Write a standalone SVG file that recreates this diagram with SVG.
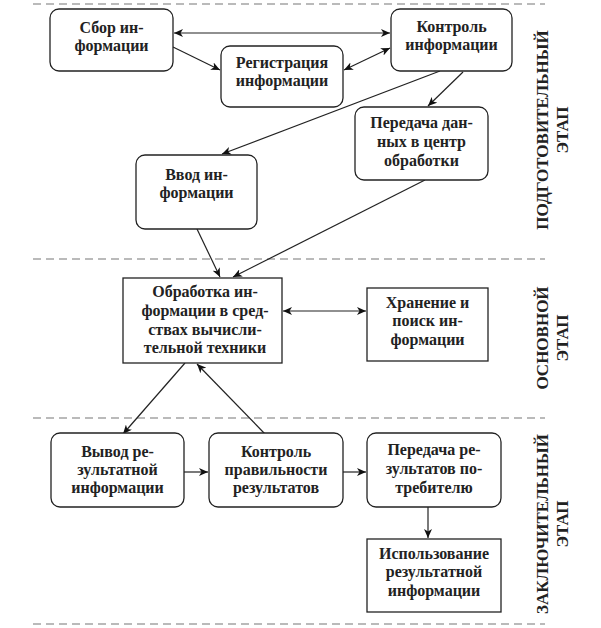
<svg xmlns="http://www.w3.org/2000/svg" width="601" height="628" viewBox="0 0 601 628">
<defs>
<marker id="ah" markerUnits="userSpaceOnUse" markerWidth="10" markerHeight="8" refX="9" refY="4" orient="auto-start-reverse">
<path d="M0,0 L9,4 L0,8 L2.5,4 Z" fill="#111"/>
</marker>
</defs>
<style>
.box{fill:#fff;stroke:#222;stroke-width:1.3}
.t{font-family:"Liberation Serif","Times New Roman",serif;font-weight:bold;font-size:16px;fill:#222;text-anchor:middle}
.v{font-family:"Liberation Serif","Times New Roman",serif;font-weight:bold;font-size:17px;fill:#222;text-anchor:middle}
.c{fill:none;stroke:#222;stroke-width:1.2}
.d{stroke:#777;stroke-width:1.2;stroke-dasharray:8,5}
</style>
<rect width="601" height="628" fill="#fff"/>
<g id="dividers">
<line class="d" x1="33" y1="4" x2="545" y2="4"/>
<line class="d" x1="33" y1="259" x2="545" y2="259"/>
<line class="d" x1="33" y1="418" x2="545" y2="418"/>
<line class="d" x1="33" y1="624" x2="545" y2="624"/>
</g>
<g id="connectors">
<line class="c" x1="174" y1="33" x2="390" y2="33" marker-start="url(#ah)" marker-end="url(#ah)"/>
<line class="c" x1="173" y1="47" x2="220" y2="70" marker-end="url(#ah)"/>
<line class="c" x1="344" y1="70" x2="390" y2="48" marker-start="url(#ah)" marker-end="url(#ah)"/>
<line class="c" x1="463" y1="72" x2="428" y2="106" marker-end="url(#ah)"/>
<line class="c" x1="440" y1="71" x2="222" y2="154" marker-end="url(#ah)"/>
<line class="c" x1="197" y1="229" x2="220" y2="277" marker-end="url(#ah)"/>
<line class="c" x1="425" y1="180" x2="233" y2="277" marker-end="url(#ah)"/>
<line class="c" x1="283" y1="311" x2="366" y2="311" marker-start="url(#ah)" marker-end="url(#ah)"/>
<line class="c" x1="185" y1="363" x2="123" y2="434" marker-end="url(#ah)"/>
<line class="c" x1="265" y1="434" x2="197" y2="364" marker-end="url(#ah)"/>
<line class="c" x1="184" y1="472" x2="208" y2="472" marker-end="url(#ah)"/>
<line class="c" x1="343" y1="472" x2="366" y2="472" marker-end="url(#ah)"/>
<line class="c" x1="428" y1="507" x2="428" y2="538" marker-end="url(#ah)"/>
</g>
<g id="n-sbor">
<rect class="box" x="50" y="9" width="123" height="62" rx="9"/>
<text class="t" x="111.5" y="33">Сбор ин-</text>
<text class="t" x="111.5" y="51">формации</text>
</g>
<g id="n-registr">
<rect class="box" x="221" y="46" width="122" height="61" rx="9"/>
<text class="t" x="282" y="68">Регистрация</text>
<text class="t" x="282" y="86">информации</text>
</g>
<g id="n-kontrol">
<rect class="box" x="391" y="9" width="121" height="62" rx="9"/>
<text class="t" x="451.5" y="32">Контроль</text>
<text class="t" x="451.5" y="50">информации</text>
</g>
<g id="n-peredacha">
<rect class="box" x="355" y="107" width="133" height="73" rx="9"/>
<text class="t" x="421.5" y="128">Передача дан-</text>
<text class="t" x="421.5" y="147">ных в центр</text>
<text class="t" x="421.5" y="166">обработки</text>
</g>
<g id="n-vvod">
<rect class="box" x="136" y="155" width="121" height="74" rx="9"/>
<text class="t" x="196.5" y="180">Ввод ин-</text>
<text class="t" x="196.5" y="198">формации</text>
</g>
<g id="n-obrabotka">
<rect class="box" x="123" y="278" width="159" height="85"/>
<text class="t" x="205" y="297">Обработка ин-</text>
<text class="t" x="205" y="316">формации в сред-</text>
<text class="t" x="205" y="335">ствах вычисли-</text>
<text class="t" x="205" y="353">тельной техники</text>
</g>
<g id="n-hranenie">
<rect class="box" x="367" y="288" width="121" height="73"/>
<text class="t" x="427.5" y="308">Хранение и</text>
<text class="t" x="427.5" y="326">поиск ин-</text>
<text class="t" x="427.5" y="345">формации</text>
</g>
<g id="n-vyvod">
<rect class="box" x="51" y="433" width="133" height="74" rx="9"/>
<text class="t" x="117.5" y="457">Вывод ре-</text>
<text class="t" x="117.5" y="475">зультатной</text>
<text class="t" x="117.5" y="493">информации</text>
</g>
<g id="n-kprav">
<rect class="box" x="209" y="433" width="134" height="74" rx="9"/>
<text class="t" x="276" y="457">Контроль</text>
<text class="t" x="276" y="475">правильности</text>
<text class="t" x="276" y="493">результатов</text>
</g>
<g id="n-pered-rez">
<rect class="box" x="367" y="433" width="134" height="74" rx="9"/>
<text class="t" x="434" y="455">Передача ре-</text>
<text class="t" x="434" y="474">зультатов по-</text>
<text class="t" x="434" y="493">требителю</text>
</g>
<g id="n-ispolz">
<rect class="box" x="367" y="539" width="134" height="73"/>
<text class="t" x="434" y="559">Использование</text>
<text class="t" x="434" y="577">результатной</text>
<text class="t" x="434" y="596">информации</text>
</g>
<g id="stage-labels">
<text class="v" transform="translate(548,130) rotate(-90)">ПОДГОТОВИТЕЛЬНЫЙ</text>
<text class="v" transform="translate(568,130) rotate(-90)">ЭТАП</text>
<text class="v" transform="translate(548,338) rotate(-90)">ОСНОВНОЙ</text>
<text class="v" transform="translate(568,338) rotate(-90)">ЭТАП</text>
<text class="v" transform="translate(548,524) rotate(-90)">ЗАКЛЮЧИТЕЛЬНЫЙ</text>
<text class="v" transform="translate(568,524) rotate(-90)">ЭТАП</text>
</g>
</svg>
